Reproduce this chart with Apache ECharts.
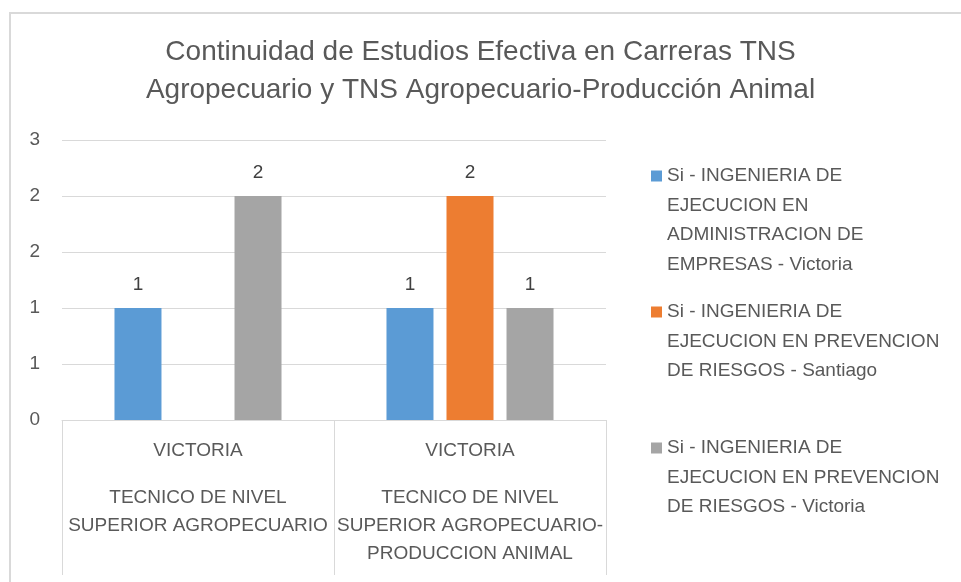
<!DOCTYPE html>
<html>
<head>
<meta charset="utf-8">
<script src="https://cdn.jsdelivr.net/npm/echarts@6/dist/echarts.min.js"></script>
<style>
  html, body { margin: 0; padding: 0; background: #fff; }
  #main { width: 961px; height: 582px; }
</style>
</head>
<body>
<div id="main"></div>
<script>
// datos del grafico
var sedes = ['VICTORIA', 'VICTORIA'];
var carreras = [
    'TECNICO DE NIVEL\nSUPERIOR AGROPECUARIO',
    'TECNICO DE NIVEL\nSUPERIOR AGROPECUARIO-\nPRODUCCION ANIMAL'
];
var nombresSeries = [
    'Si - INGENIERIA DE\nEJECUCION EN\nADMINISTRACION DE\nEMPRESAS - Victoria',
    'Si - INGENIERIA DE\nEJECUCION EN PREVENCION\nDE RIESGOS - Santiago',
    'Si - INGENIERIA DE\nEJECUCION EN PREVENCION\nDE RIESGOS - Victoria'
];
var adminVictoria = [1, 1];
var prevencionSantiago = [null, 2];
var prevencionVictoria = [2, 1];
var yMin = 0, yMax = 2.5, yPaso = 0.5;

var colores = ['#5B9BD5', '#ED7D31', '#A5A5A5'];
var valores = [adminVictoria, prevencionSantiago, prevencionVictoria];
var fuente = 'Liberation Sans, Arial, sans-serif';
var gris = '#595959';
var linea = 29.5;

var myChart = echarts.init(document.getElementById('main'));

// una leyenda por serie, con lineas vacias antes para que el cuadro quede en la primera linea
var topes = [176, 312, 448];
var leyendas = nombresSeries.map(function (nombre, i) {
    var n = nombre.split('\n').length;
    return {
        data: [nombre],
        orient: 'vertical',
        left: 651,
        top: topes[i] - (n - 0.5) * linea,
        padding: 0,
        itemWidth: 11,
        itemHeight: 11,
        icon: 'rect',
        selectedMode: false,
        formatter: function (name) {
            return new Array(n).join('\n') + name;
        },
        textStyle: { fontFamily: fuente, fontSize: 19, color: gris, lineHeight: linea }
    };
});

var option = {
    animation: false,
    title: {
        text: 'Continuidad de Estudios Efectiva en Carreras TNS\nAgropecuario y TNS Agropecuario-Producción Animal',
        left: 'center',
        top: 33,
        padding: [0, 0, 0, 20],
        textStyle: {
            fontFamily: fuente,
            fontSize: 28,
            fontWeight: 'normal',
            color: gris,
            lineHeight: 38
        }
    },
    graphic: [{
        type: 'rect',
        shape: { x: 10, y: 13, width: 1000, height: 700 },
        style: { fill: 'none', stroke: '#d9d9d9', lineWidth: 2 },
        silent: true
    }],
    legend: leyendas,
    grid: { left: 62, right: 355, top: 140, bottom: 162, containLabel: false },
    xAxis: [{
        type: 'category',
        position: 'bottom',
        data: sedes,
        axisLine: { lineStyle: { color: '#d9d9d9', width: 1 } },
        axisTick: { show: true, length: 155, lineStyle: { color: '#d9d9d9' } },
        axisLabel: { interval: 0, margin: 21, fontFamily: fuente, fontSize: 19, color: gris, lineHeight: 20 }
    }, {
        type: 'category',
        position: 'bottom',
        data: carreras,
        axisLine: { show: false },
        axisTick: { show: false },
        axisLabel: { interval: 0, margin: 64, fontFamily: fuente, fontSize: 19, color: gris, lineHeight: 28 }
    }],
    yAxis: {
        type: 'value',
        min: yMin,
        max: yMax,
        interval: yPaso,
        axisLine: { show: false },
        axisTick: { show: false },
        splitLine: { lineStyle: { color: '#d9d9d9' } },
        axisLabel: {
            margin: 22,
            fontFamily: fuente,
            fontSize: 19,
            color: gris,
            formatter: function (v) { return Math.round(v); }
        }
    },
    series: nombresSeries.map(function (nombre, i) {
        return {
            name: nombre,
            type: 'bar',
            xAxisIndex: 0,
            data: valores[i],
            barWidth: 47,
            barGap: '27.7%',
            itemStyle: { color: colores[i] },
            label: {
                show: true,
                position: 'top',
                distance: 14,
                fontFamily: fuente,
                fontSize: 19,
                color: '#404040',
                formatter: function (p) { return Math.round(p.value); }
            }
        };
    })
};
myChart.setOption(option);
</script>
</body>
</html>
